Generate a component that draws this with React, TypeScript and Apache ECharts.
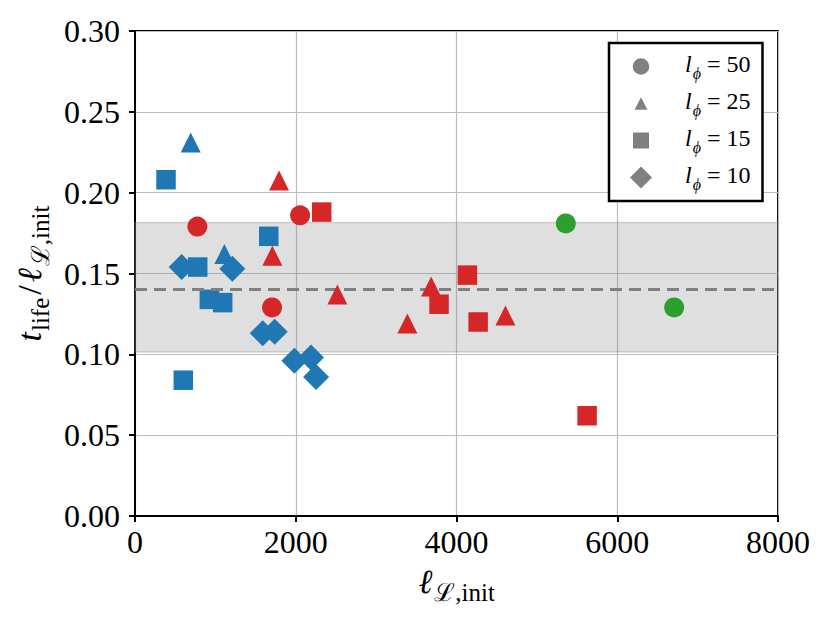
import React, { useEffect, useRef } from "react";
import * as echarts from "echarts";

// ---- data ----
const phiValues = [50, 25, 15, 10];
const blueTriangle = [[693, 0.231], [1112, 0.162]];
const blueSquare = [[386, 0.208], [1664, 0.173], [780, 0.154], [925, 0.134], [1091, 0.132], [601, 0.084]];
const blueDiamond = [[581, 0.154], [1211, 0.153], [1589, 0.113], [1738, 0.114], [1983, 0.096], [2190, 0.098], [2253, 0.086]];
const redCircle = [[776, 0.179], [2054, 0.186], [1705, 0.129]];
const redTriangle = [[1792, 0.2075], [1709, 0.161], [2518, 0.137], [3389, 0.119], [3684, 0.142], [4609, 0.124]];
const redSquare = [[2323, 0.188], [3783, 0.131], [4136, 0.149], [4269, 0.12], [5625, 0.062]];
const greenCircle = [[5360, 0.181], [6708, 0.129]];
const meanRatio = 0.1415;
const bandLow = 0.1015;
const bandHigh = 0.1815;
const xTickLabels = ["0", "2000", "4000", "6000", "8000"];
const yTickLabels = ["0.00", "0.05", "0.10", "0.15", "0.20", "0.25", "0.30"];

const FONT = "'Liberation Serif', 'DejaVu Serif', serif";
const BLUE = "#1f77b4";
const RED = "#d62728";
const GREEN = "#2ca02c";

const markerOf: Record<number, string> = { 50: "circle", 25: "triangle", 15: "rect", 10: "diamond" };
const sizeOf: Record<number, number> = { 50: 20, 25: 20, 15: 19.5, 10: 26 };
const legendIcon: Record<number, string> = {
  50: "path://M0 0M22 22M19.3 11A8.3 8.3 0 1 1 2.7 11A8.3 8.3 0 1 1 19.3 11Z",
  25: "path://M0 0M22 22M11 4.7L17.4 17.3L4.6 17.3Z",
  15: "path://M0 0M22 22M3 3L19 3L19 19L3 19Z",
  10: "path://M0 0M22 22M11 0L22 11L11 22L0 11Z",
};
const nameOf = (phi: number) => `lϕ = ${phi}`;

const groups = [
  { data: blueTriangle, phi: 25, color: BLUE },
  { data: blueSquare, phi: 15, color: BLUE },
  { data: blueDiamond, phi: 10, color: BLUE },
  { data: redCircle, phi: 50, color: RED },
  { data: redTriangle, phi: 25, color: RED },
  { data: redSquare, phi: 15, color: RED },
  { data: greenCircle, phi: 50, color: GREEN },
];

export default function App() {
  const ref = useRef<HTMLDivElement>(null);
  useEffect(() => {
    if (!ref.current) return;
    const chart = echarts.init(ref.current, undefined, { renderer: "svg" });
    const scatterSeries = groups.map((g, i) => ({
      type: "scatter",
      name: nameOf(g.phi),
      data: g.data,
      symbol: markerOf[g.phi],
      symbolSize: sizeOf[g.phi],
      itemStyle: { color: g.color, opacity: 1 },
      z: 3 + i,
      emphasis: { disabled: true },
    }));
    const option: any = {
      animation: false,
      backgroundColor: "#fff",
      textStyle: { fontFamily: FONT },
      grid: {
        left: 135,
        top: 31,
        width: 643,
        height: 485,
        show: true,
        borderColor: "#000",
        borderWidth: 2,
        backgroundColor: "transparent",
      },
      legend: {
        orient: "vertical",
        left: 609,
        top: 43,
        padding: [9, 12, 9, 21],
        itemWidth: 22,
        itemHeight: 22,
        itemGap: 8,
        backgroundColor: "#fff",
        borderColor: "#000",
        borderWidth: 2.5,
        borderRadius: 0,
        selectedMode: false,
        data: phiValues.map((phi) => ({
          name: nameOf(phi),
          icon: legendIcon[phi],
          itemStyle: { color: "#808080" },
        })),
        formatter: (name: string) => {
          const v = name.split("= ")[1];
          return `{i|l}{s|ϕ}{t| = ${v}}`;
        },
        textStyle: {
          color: "#000",
          fontFamily: FONT,
          fontSize: 24,
          rich: {
            i: { fontFamily: FONT, fontStyle: "italic", fontSize: 24, padding: [0, 1, 5, 28], verticalAlign: "middle", color: "#000" },
            s: { fontFamily: FONT, fontStyle: "italic", fontSize: 16, verticalAlign: "bottom", color: "#000" },
            t: { fontFamily: FONT, fontSize: 24, padding: [0, 0, 5, 0], verticalAlign: "middle", color: "#000" },
          },
        },
      },
      xAxis: {
        type: "value",
        min: 0,
        max: 8000,
        interval: 2000,
        axisLine: { show: true, lineStyle: { color: "#000", width: 2 } },
        axisTick: { show: true, length: 6, lineStyle: { color: "#000", width: 2 } },
        splitLine: { show: true, lineStyle: { color: "#bdbdbd", width: 1.2 } },
        axisLabel: {
          color: "#000",
          fontFamily: FONT,
          fontSize: 32,
          margin: 10,
          formatter: (v: number) => xTickLabels[Math.round(v / 2000)],
        },
        name: "{l|ℓ}{s|ℒ,init}",
        nameLocation: "middle",
        nameGap: 48,
        nameTextStyle: {
          color: "#000",
          fontFamily: FONT,
          fontSize: 34,
          rich: {
            l: { fontFamily: FONT, fontStyle: "italic", fontSize: 34, padding: [0, 2, 7, 0], verticalAlign: "middle", color: "#000" },
            s: { fontFamily: FONT, fontSize: 25, verticalAlign: "bottom", color: "#000" },
          },
        },
      },
      yAxis: {
        type: "value",
        min: 0,
        max: 0.3,
        interval: 0.05,
        axisLine: { show: true, lineStyle: { color: "#000", width: 2 } },
        axisTick: { show: true, length: 6, lineStyle: { color: "#000", width: 2 } },
        splitLine: { show: true, lineStyle: { color: "#bdbdbd", width: 1.2 } },
        axisLabel: {
          color: "#000",
          fontFamily: FONT,
          fontSize: 32,
          margin: 15,
          formatter: (v: number) => yTickLabels[Math.round(v / 0.05)],
        },
        name: "{t|t}{s|life}{m|/}{l|ℓ}{s|ℒ,init}",
        nameLocation: "middle",
        nameRotate: 90,
        nameGap: 80,
        nameTextStyle: {
          color: "#000",
          fontFamily: FONT,
          fontSize: 34,
          rich: {
            t: { fontFamily: FONT, fontStyle: "italic", fontSize: 34, padding: [0, 1, 7, 0], verticalAlign: "middle", color: "#000" },
            m: { fontFamily: FONT, fontSize: 34, padding: [0, 3, 7, 3], verticalAlign: "middle", color: "#000" },
            l: { fontFamily: FONT, fontStyle: "italic", fontSize: 34, padding: [0, 2, 7, 0], verticalAlign: "middle", color: "#000" },
            s: { fontFamily: FONT, fontSize: 25, verticalAlign: "bottom", color: "#000" },
          },
        },
      },
      series: [
        {
          type: "line",
          name: "band",
          data: [],
          silent: true,
          z: 1,
          markArea: {
            silent: true,
            itemStyle: { color: "rgba(128,128,128,0.25)", borderColor: "rgba(128,128,128,0.3)", borderWidth: 1.5 },
            data: [[{ yAxis: bandLow }, { yAxis: bandHigh }]],
          },
          markLine: {
            silent: true,
            symbol: "none",
            label: { show: false },
            lineStyle: { color: "#808080", width: 3, type: [12, 7] },
            data: [{ yAxis: meanRatio }],
          },
        },
        ...scatterSeries,
      ],
    };
    chart.setOption(option);
    return () => chart.dispose();
  }, []);
  return <div ref={ref} style={{ position: "absolute", left: 0, top: 0, width: 830, height: 623 }} />;
}
